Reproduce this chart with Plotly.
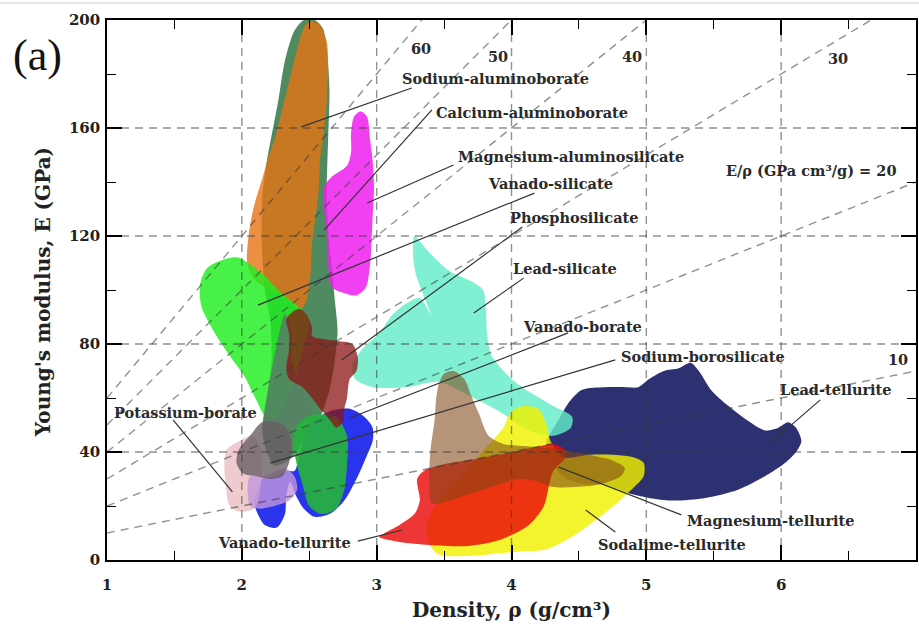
import plotly.graph_objects as go

# ---------------- axes / reference lines ----------------
x_range = [1, 7]
y_range = [0, 200]
x_grid = [2, 3, 4, 5, 6]
y_grid = [40, 80, 120, 160]
ratio_values = [10, 20, 30, 40, 50, 60]          # E/rho (GPa cm3/g)
ratio_label_text = ["60", "50", "40", "30", "E/ρ (GPa cm³/g) = 20", "10"]
ratio_label_x = [3.33, 3.90, 4.89, 6.42, 6.22, 6.87]
ratio_label_y = [189.5, 186.3, 186.3, 185.9, 144.4, 74.1]

# ---------------- material regions (density g/cm3, modulus GPa) ----------------
lead_tellurite_x = [4.26, 4.35, 4.42, 4.52, 4.70, 4.85, 4.94, 5.02, 5.13, 5.24, 5.33, 5.39, 5.48, 5.61, 5.74,
                    5.88, 5.98, 6.05, 6.11, 6.15, 6.11, 6.03, 5.88, 5.68, 5.44, 5.19, 5.02, 4.85, 4.68, 4.54,
                    4.41, 4.31, 4.26]
lead_tellurite_y = [44, 52, 58, 63, 64, 64, 64, 67, 70, 71, 73, 70, 63, 57, 52,
                    48, 49, 51, 49, 44, 40, 36, 31, 26, 23, 22, 23, 25, 28, 28,
                    30, 35, 40]

lead_silicate_x = [3.28, 3.37, 3.54, 3.71, 3.79, 3.81, 3.82, 3.85, 3.94, 4.05, 4.31, 4.45, 4.44, 4.31, 4.13,
                   3.91, 3.68, 3.46, 3.22, 2.97, 2.84, 2.82, 2.89, 3.02, 3.12, 3.22, 3.32, 3.40, 3.34, 3.29, 3.27]
lead_silicate_y = [120, 115, 107, 103, 100, 93, 83, 76, 70, 65, 57, 53, 49, 46, 48,
                   55, 61, 66, 64, 64, 67, 72, 78, 84, 91, 95, 97, 91, 99, 106, 113]

sodalime_tellurite_x = [3.94, 4.00, 4.09, 4.20, 4.26, 4.29, 4.39, 4.57, 4.76, 4.91, 4.98, 4.98, 4.91, 4.78, 4.63,
                        4.46, 4.26, 4.02, 3.68, 3.46, 3.39, 3.37, 3.46, 3.61, 3.80]
sodalime_tellurite_y = [49, 55, 57, 56, 50, 44, 38, 39, 39, 38, 36, 31, 27, 21, 15,
                        9, 4, 3, 1.5, 2, 6, 13, 22, 30, 41]

vanado_tellurite_x = [3.02, 3.17, 3.39, 3.68, 3.91, 4.13, 4.24, 4.28, 4.31, 4.40, 4.39, 4.31, 4.20, 3.91, 3.68,
                      3.46, 3.35, 3.30, 3.32, 3.28, 3.17, 3.06]
vanado_tellurite_y = [8.5, 6.7, 5.6, 5.2, 7.4, 13, 20, 28, 33, 38, 41, 43, 42, 39, 37,
                      35, 33, 30, 22, 17, 13, 10]

magnesium_tellurite_x = [3.46, 3.50, 3.57, 3.65, 3.70, 3.76, 3.83, 3.94, 4.13, 4.35, 4.57, 4.74, 4.84, 4.81, 4.65,
                         4.46, 4.31, 4.20, 4.05, 3.91, 3.72, 3.54, 3.41, 3.39, 3.40, 3.43, 3.44]
magnesium_tellurite_y = [65, 69, 70, 67, 61, 54, 46, 43, 42, 41, 39, 37, 34, 31, 28,
                         27, 27, 29, 30, 28, 25, 22, 21, 30, 41, 52, 59]

calcium_aluminoborate_x = [2.46, 2.54, 2.60, 2.63, 2.65, 2.64, 2.63, 2.64, 2.67, 2.69, 2.71, 2.69, 2.65, 2.59, 2.46,
                           2.35, 2.24, 2.18, 2.16, 2.19, 2.22, 2.21, 2.17, 2.15, 2.15, 2.18, 2.22, 2.27, 2.32, 2.39]
calcium_aluminoborate_y = [200, 200, 197, 189, 174, 156, 137, 122, 107, 96, 85, 74, 63, 54, 44,
                           37, 35, 41, 50, 61, 74, 89, 100, 115, 133, 146, 157, 170, 185, 196]

sodium_aluminoborate_x = [2.52, 2.58, 2.63, 2.64, 2.63, 2.61, 2.58, 2.57, 2.55, 2.52, 2.51, 2.48, 2.44, 2.35, 2.21,
                          2.09, 2.04, 2.05, 2.09, 2.15, 2.19, 2.25, 2.31, 2.37, 2.43, 2.47]
sodium_aluminoborate_y = [199.6, 198, 192, 183, 170, 159, 148, 137, 128, 117, 106, 96, 93, 96, 100,
                          104, 110, 120, 131, 141, 148, 157, 169, 181, 193, 198]

vanado_silicate_x = [1.69, 1.74, 1.85, 1.97, 2.15, 2.29, 2.44, 2.50, 2.47, 2.41, 2.33, 2.26, 2.18, 2.10, 2.02,
                     1.92, 1.80, 1.70]
vanado_silicate_y = [102, 108, 111, 112, 106, 99, 93, 89, 81, 70, 59, 53, 53, 60, 68,
                     75, 84, 94]

calcium_aluminoborate_low_x = [2.32, 2.37, 2.37, 2.43, 2.50, 2.54, 2.46, 2.35, 2.24, 2.18, 2.15, 2.18, 2.22, 2.26]
calcium_aluminoborate_low_y = [91, 85, 74, 65, 59, 52, 44, 39, 37, 41, 48, 59, 70, 80]

magnesium_aluminosilicate_x = [2.89, 2.93, 2.95, 2.97, 2.98, 2.97, 2.95, 2.92, 2.85, 2.75, 2.67, 2.63, 2.61, 2.67,
                               2.78, 2.81, 2.81, 2.83, 2.87]
magnesium_aluminosilicate_y = [166, 164, 156, 148, 138, 127, 109, 101, 98, 99, 101, 121, 138, 142,
                               146, 151, 158, 164, 166]

vanado_borate_x = [2.12, 2.15, 2.24, 2.33, 2.39, 2.43, 2.50, 2.65, 2.80, 2.91, 2.97, 2.97, 2.93, 2.86, 2.76,
                   2.65, 2.54, 2.46, 2.40, 2.36, 2.33, 2.32, 2.26, 2.17, 2.11, 2.09]
vanado_borate_y = [26, 30, 31, 33, 33, 39, 50, 55, 56, 53, 49, 44, 39, 31, 22,
                   17, 16, 19, 24, 29, 24, 17, 12, 13, 18, 22]

potassium_borate_x = [1.89, 1.98, 2.07, 2.13, 2.15, 2.13, 2.09, 1.98, 1.91, 1.88, 1.87]
potassium_borate_y = [41, 44, 46, 43, 33, 24, 19, 18, 20, 28, 35]

lavender_x = [2.06, 2.17, 2.32, 2.39, 2.41, 2.35, 2.24, 2.13, 2.06]
lavender_y = [31, 31, 34, 31, 26, 22, 20, 19, 20]

sodium_borosilicate_x = [1.96, 1.98, 2.06, 2.15, 2.26, 2.33, 2.37, 2.35, 2.30, 2.21, 2.11, 2.01]
sodium_borosilicate_y = [36, 41, 46, 51, 51, 49, 43, 36, 31, 30, 31, 32]

green_patch_x = [2.48, 2.58, 2.70, 2.78, 2.78, 2.76, 2.70, 2.59, 2.50, 2.45, 2.41, 2.38, 2.41]
green_patch_y = [53, 54, 53, 46, 35, 26, 19, 17, 20, 28, 35, 44, 50]

phosphosilicate_x = [2.38, 2.43, 2.48, 2.52, 2.52, 2.58, 2.72, 2.82, 2.86, 2.85, 2.80, 2.78, 2.76, 2.75, 2.70,
                     2.65, 2.58, 2.52, 2.45, 2.35, 2.33, 2.35, 2.35, 2.33]
phosphosilicate_y = [92, 93, 91, 86, 83, 82, 81, 80, 75, 70, 67, 60, 56, 51, 49,
                     52, 56, 60, 64, 67, 71, 78, 84, 89]

regions = [
    ("Lead-tellurite", lead_tellurite_x, lead_tellurite_y, "rgba(35,38,105,0.95)"),
    ("Lead-silicate", lead_silicate_x, lead_silicate_y, "rgba(100,235,200,0.82)"),
    ("Sodalime-tellurite", sodalime_tellurite_x, sodalime_tellurite_y, "rgba(240,240,0,0.82)"),
    ("Vanado-tellurite", vanado_tellurite_x, vanado_tellurite_y, "rgba(235,10,10,0.82)"),
    ("Magnesium-tellurite", magnesium_tellurite_x, magnesium_tellurite_y, "rgba(130,70,20,0.58)"),
    ("Calcium-aluminoborate", calcium_aluminoborate_x, calcium_aluminoborate_y, "rgba(40,112,62,0.82)"),
    ("Sodium-aluminoborate", sodium_aluminoborate_x, sodium_aluminoborate_y, "rgba(230,115,20,0.8)"),
    ("Vanado-silicate", vanado_silicate_x, vanado_silicate_y, "rgba(30,238,30,0.82)"),
    ("Calcium-aluminoborate (lower)", calcium_aluminoborate_low_x, calcium_aluminoborate_low_y, "rgba(85,130,100,0.9)"),
    ("Magnesium-aluminosilicate", magnesium_aluminosilicate_x, magnesium_aluminosilicate_y, "rgba(238,30,238,0.85)"),
    ("Vanado-borate", vanado_borate_x, vanado_borate_y, "rgba(20,30,235,0.9)"),
    ("Potassium-borate", potassium_borate_x, potassium_borate_y, "rgba(235,190,195,0.8)"),
    ("Lavender", lavender_x, lavender_y, "rgba(195,150,220,0.8)"),
    ("Sodium-borosilicate", sodium_borosilicate_x, sodium_borosilicate_y, "rgba(105,95,100,0.8)"),
    ("Green", green_patch_x, green_patch_y, "rgba(40,178,62,0.92)"),
    ("Phosphosilicate", phosphosilicate_x, phosphosilicate_y, "rgba(140,20,20,0.75)"),
]

# ---------------- labels and leader lines ----------------
label_text = ["Sodium-aluminoborate", "Calcium-aluminoborate", "Magnesium-aluminosilicate", "Vanado-silicate",
              "Phosphosilicate", "Lead-silicate", "Vanado-borate", "Sodium-borosilicate", "Potassium-borate",
              "Vanado-tellurite", "Lead-tellurite", "Magnesium-tellurite", "Sodalime-tellurite"]
label_x = [3.88, 4.15, 4.44, 4.29, 4.46, 4.40, 4.53, 5.42, 1.58, 2.32, 6.41, 5.92, 5.19]
label_y = [178.5, 165.9, 149.3, 139.6, 126.7, 108.1, 86.3, 75.2, 54.8, 6.3, 63.0, 14.8, 5.9]
leader_x0 = [3.26, 3.41, 3.57, 4.17, 4.08, 4.09, 4.42, 4.77, 1.49, 2.86, 6.29, 5.26, 4.77]
leader_y0 = [174.8, 166.7, 146.3, 135.9, 123.3, 104.4, 84.1, 74.1, 51.9, 7.0, 59.3, 16.7, 10.4]
leader_x1 = [2.44, 2.61, 2.93, 2.12, 2.74, 3.72, 2.80, 2.21, 1.93, 3.19, 5.92, 4.35, 4.55]
leader_y1 = [160.4, 122.2, 132.2, 94.4, 74.1, 91.5, 52.6, 35.9, 25.2, 11.1, 43.3, 34.4, 18.5]

SERIF = "DejaVu Serif"
fig = go.Figure()

for name, xs, ys, col in regions:
    fig.add_trace(go.Scatter(
        x=xs + xs[:1], y=ys + ys[:1], mode="lines", fill="toself", fillcolor=col,
        line=dict(width=0, color=col, shape="spline", smoothing=0.8),
        name=name, hoverinfo="name", showlegend=False))

dash_style = "8px,6px"
line_col = "rgba(55,55,55,0.55)"
for c in ratio_values:
    fig.add_trace(go.Scatter(x=[x_range[0], x_range[1]], y=[c * x_range[0], c * x_range[1]],
                             mode="lines", line=dict(color=line_col, width=1.4, dash=dash_style),
                             hoverinfo="skip", showlegend=False))
for gx in x_grid:
    fig.add_trace(go.Scatter(x=[gx, gx], y=y_range, mode="lines",
                             line=dict(color=line_col, width=1.4, dash=dash_style),
                             hoverinfo="skip", showlegend=False))
for gy in y_grid:
    fig.add_trace(go.Scatter(x=x_range, y=[gy, gy], mode="lines",
                             line=dict(color=line_col, width=1.4, dash=dash_style),
                             hoverinfo="skip", showlegend=False))

for i in range(len(label_text)):
    fig.add_trace(go.Scatter(x=[leader_x0[i], leader_x1[i]], y=[leader_y0[i], leader_y1[i]],
                             mode="lines", line=dict(color="#333333", width=1.2),
                             hoverinfo="skip", showlegend=False))
    fig.add_annotation(x=label_x[i], y=label_y[i], text=label_text[i], showarrow=False,
                       xanchor="center", yanchor="middle",
                       font=dict(family=SERIF, size=14.5, color="#2a2a2a", weight="bold"))

for t, x, y in zip(ratio_label_text, ratio_label_x, ratio_label_y):
    fig.add_annotation(x=x, y=y, text=t, showarrow=False, xanchor="center", yanchor="middle",
                       font=dict(family=SERIF, size=14.5, color="#2a2a2a", weight="bold"))

# panel tag and axis titles
fig.add_annotation(xref="paper", yref="paper", x=-0.0863, y=0.935, text="(a)", showarrow=False,
                   xanchor="center", yanchor="middle",
                   font=dict(family="Liberation Serif", size=44, color="#111111"))
fig.add_annotation(xref="paper", yref="paper", x=-0.079, y=0.496, text="Young's modulus, E (GPa)",
                   showarrow=False, textangle=-90, xanchor="center", yanchor="middle",
                   font=dict(family=SERIF, size=20, color="#222222", weight="bold"))
fig.add_annotation(xref="paper", yref="paper", x=0.5, y=-0.092, text="Density, ρ (g/cm³)",
                   showarrow=False, xanchor="center", yanchor="middle",
                   font=dict(family=SERIF, size=20, color="#222222", weight="bold"))

# thin top border line of the page
fig.add_shape(type="line", xref="paper", yref="paper", x0=-0.14, x1=1.01, y0=1.0315, y1=1.0315,
              line=dict(color="#cccccc", width=1))

axis_common = dict(showgrid=False, zeroline=False, showline=True, linecolor="black", linewidth=1.6,
                   mirror="ticks", ticks="inside", tickcolor="black", tickwidth=1.6, ticklen=15,
                   tickfont=dict(family=SERIF, size=15, color="#222222", weight="bold"))
fig.update_xaxes(range=x_range, dtick=1, tick0=1, ticklabelstandoff=10,
                 minor=dict(dtick=0.5, ticks="inside", ticklen=9, tickcolor="black", tickwidth=1.4, showgrid=False),
                 **axis_common)
fig.update_yaxes(range=y_range, dtick=40, tick0=0, ticklabelstandoff=2,
                 minor=dict(dtick=20, ticks="inside", ticklen=9, tickcolor="black", tickwidth=1.4, showgrid=False),
                 **axis_common)

fig.update_layout(width=919, height=629, margin=dict(l=107, r=1, t=20, b=69),
                  plot_bgcolor="white", paper_bgcolor="white", showlegend=False)

fig.write_html("out.html", config={"displayModeBar": False},
               post_script="document.body.style.margin='0px';")
